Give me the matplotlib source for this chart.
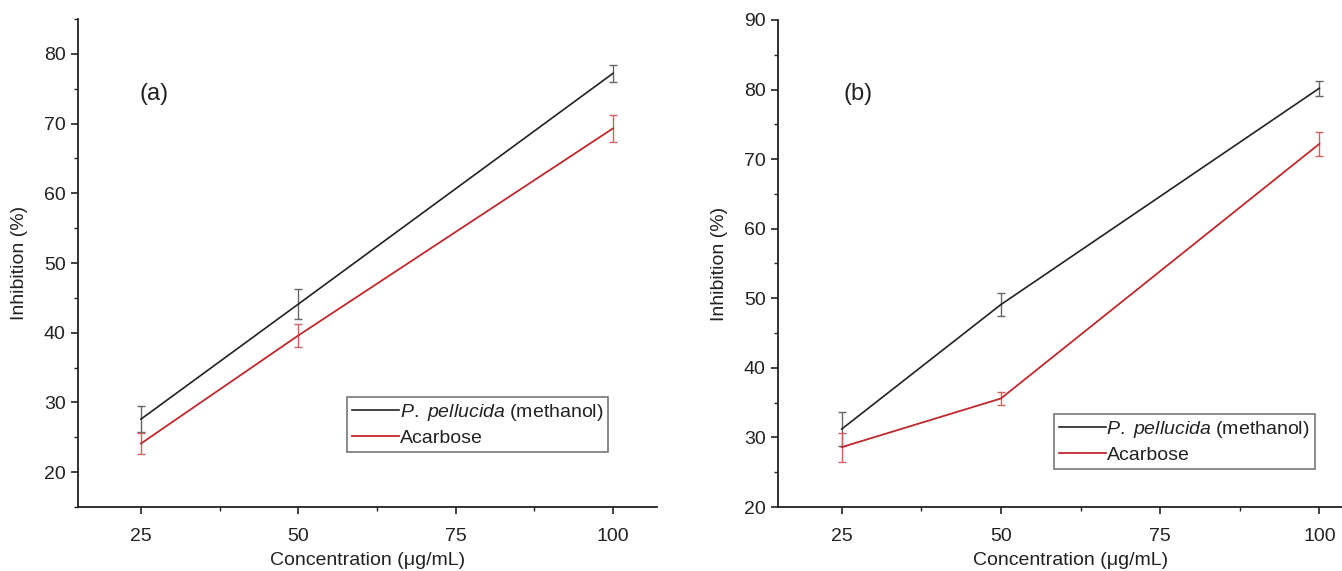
import matplotlib.pyplot as plt
from matplotlib.ticker import MultipleLocator

plt.rcParams['font.family'] = ['Liberation Sans', 'DejaVu Sans']
plt.rcParams['mathtext.fontset'] = 'custom'
plt.rcParams['mathtext.rm'] = 'Liberation Sans'
plt.rcParams['mathtext.it'] = 'Liberation Sans:italic'

conc = [25, 50, 100]

# (a)
a_plant = [27.6, 44.1, 77.2]
a_plant_err = [1.9, 2.1, 1.2]
a_acarb = [24.1, 39.6, 69.3]
a_acarb_err = [1.5, 1.7, 2.0]

# (b)
b_plant = [31.2, 49.1, 80.2]
b_plant_err = [2.4, 1.6, 1.1]
b_acarb = [28.6, 35.6, 72.2]
b_acarb_err = [2.1, 0.9, 1.7]

labels = [r'$\it{P.\ pellucida}$ (methanol)', 'Acarbose']
xticks = [25, 50, 75, 100]

fig = plt.figure(figsize=(13.42, 5.71), dpi=100)
W, H = 1342, 571


def panel(left, right, top, bottom, ylim, plant, plant_err, acarb, acarb_err, tag, tag_pos, leg_pos):
    ax = fig.add_axes([left / W, 1 - bottom / H, (right - left) / W, (bottom - top) / H])
    ax.errorbar(conc, plant, yerr=plant_err, color='#222222', lw=1.2, ecolor='#666666',
                elinewidth=1.0, capsize=3.2, capthick=1.0, label=labels[0])
    ax.errorbar(conc, acarb, yerr=acarb_err, color='#c0282c', lw=1.3, ecolor='#d46060',
                elinewidth=1.0, capsize=3.2, capthick=1.0, label=labels[1])
    ax.set_xlim(15, 107)
    ax.set_ylim(*ylim)
    ax.set_xticks(xticks)
    ax.xaxis.set_minor_locator(MultipleLocator(12.5))
    ax.yaxis.set_major_locator(MultipleLocator(10))
    ax.yaxis.set_minor_locator(MultipleLocator(5))
    ax.spines['top'].set_visible(False)
    ax.spines['right'].set_visible(False)
    for s in ['left', 'bottom']:
        ax.spines[s].set_linewidth(1.3)
        ax.spines[s].set_color('#222222')
    ax.tick_params(which='major', length=5, width=1.2, labelsize=14, colors='#222222', pad=4)
    ax.tick_params(axis='x', which='major', pad=10)
    ax.tick_params(which='minor', length=3, width=1.0, colors='#222222')
    ax.set_xlabel('Concentration (μg/mL)', fontsize=14, color='#222222', labelpad=5)
    ax.set_ylabel('Inhibition (%)', fontsize=14, color='#222222', labelpad=11)
    ax.text(tag_pos[0], tag_pos[1], tag, transform=ax.transAxes, fontsize=17,
            color='#222222', va='center')
    # handles without error bars
    h, l = ax.get_legend_handles_labels()
    h = [hh[0] for hh in h]
    leg = ax.legend(h, l, loc='upper left', bbox_to_anchor=leg_pos, fontsize=14, frameon=True,
                    fancybox=False, edgecolor='#777777', handlelength=2.4, handletextpad=0.05,
                    borderpad=0.25, labelspacing=0.35, borderaxespad=0, framealpha=1)
    leg.get_frame().set_linewidth(1.2)
    for t in leg.get_texts():
        t.set_color('#222222')
    return ax


panel(78, 657, 19, 507, (15, 85), a_plant, a_plant_err, a_acarb, a_acarb_err, '(a)',
      (0.107, 0.847), ((347 - 78) / 579, (507 - 397) / 488))
panel(778, 1364, 20, 507, (20, 90), b_plant, b_plant_err, b_acarb, b_acarb_err, '(b)',
      (0.111, 0.848), ((1054 - 778) / 586, (507 - 414) / 487))

fig.savefig('out.png', dpi=100)
